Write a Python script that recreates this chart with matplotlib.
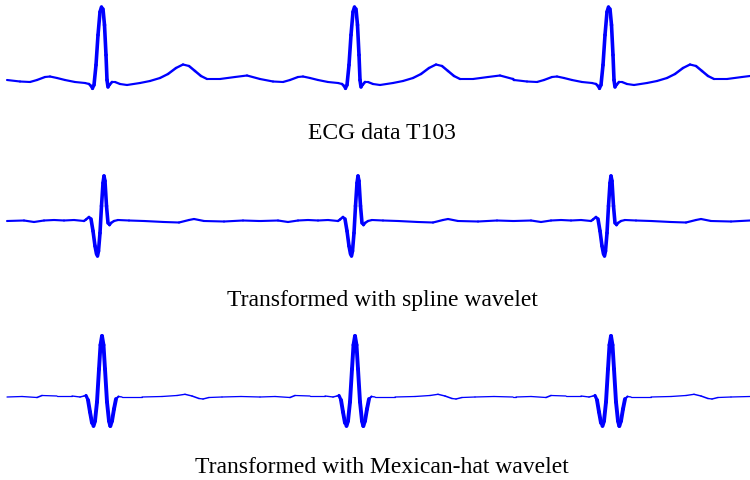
import numpy as np
import matplotlib
matplotlib.use("Agg")
import matplotlib.pyplot as plt
from matplotlib.collections import LineCollection

# R-peak positions (sample index) of the three beats in each trace
ecg_peaks = [102, 355, 609]
spline_peaks = [104, 358, 611]
mexhat_peaks = [102, 355, 611]

# one beat of each trace: offset from the R peak and amplitude above baseline
ecg_off = [-95, -82, -72, -65, -57, -52, -45, -37, -27, -17, -13, -11, -9.5, -8, -6, -4, -2,
           -0.5, 1, 2.5, 4, 5, 6, 7.5, 10, 13, 18, 25, 38, 48, 58, 66, 74, 81, 87, 93, 99,
           105, 118, 133, 141, 145, 158]
ecg_amp = [0, -1.5, -2, 0, 3, 3.5, 2, 0, -2, -3, -4, -6, -8.5, -5, 15, 45, 68,
           73, 71, 55, 25, 0, -7, -5, -2, -2, -4, -5, -3, -1, 2, 6, 12, 15.5, 14, 9, 4,
           1, 1, 3, 4, 4.5, 1]

spline_off = [-97, -80, -70, -60, -50, -40, -30, -20, -18, -15, -13, -11, -9, -7.5, -6.5,
              -5.5, -4, -2.5, -1, 0, 1, 2.5, 4, 5.5, 7, 10, 14, 25, 40, 60, 75, 85, 90,
              100, 120, 139, 155]
spline_amp = [0, 0.5, -1, 0.5, 1, 0.5, 1, 0, 1.5, 4, 2, -10, -25, -33, -35,
              -30, -12, 15, 38, 45, 40, 15, -2, -4, -2, 0, 1, 0.5, 0, -1, -1.5, 1, 2,
              0, -0.5, 0.5, 0]

mexhat_off = [-95, -80, -65, -60, -45, -30, -22, -18, -16, -14, -12, -10, -8.5, -7, -5, -3,
              -1.5, 0, 1.5, 3, 5, 7, 8.3, 10, 12, 14, 16.5, 20, 40, 60, 75, 83, 90, 97,
              101, 107, 120, 139, 158]
mexhat_amp = [0, 0.5, -0.5, 1.5, 1, 1, 0, 1, 1.5, -3, -15, -26, -29, -24, -5, 28,
              52, 61, 52, 28, -5, -24, -29, -24, -12, -2, 0.5, 0, 0, 0.5, 1.5, 2.7, 1, -1.5,
              -2, -0.5, 0, 0.5, 0]

titles = ["ECG data T103", "Transformed with spline wavelet",
          "Transformed with Mexican-hat wavelet"]


def build(peaks, off, amp, start=7, stop=750):
    t, y = [], []
    for p in peaks:
        for o, a in zip(off, amp):
            x = p + o
            if start <= x <= stop and (not t or x > t[-1]):
                t.append(x)
                y.append(a)
    return np.array(t), np.array(y)


def draw(ax, t, y, thin, thick, steep):
    pts = np.column_stack([t, y])
    segs = np.stack([pts[:-1], pts[1:]], axis=1)
    slope = np.abs(np.diff(y) / np.diff(t))
    lw = thin + (thick - thin) * np.clip(slope / steep, 0, 1)
    lc = LineCollection(segs, colors="#0000ff", linewidths=lw, capstyle="round",
                        joinstyle="round")
    ax.add_collection(lc)


fig = plt.figure(figsize=(7.5, 4.8), dpi=100)
H = 480.0

# (top px, bottom px, baseline px) for each band
bands = [(0, 100, 80), (160, 270, 221), (325, 435, 397)]
traces = [build(ecg_peaks, ecg_off, ecg_amp),
          build(spline_peaks, spline_off, spline_amp),
          build(mexhat_peaks, mexhat_off, mexhat_amp)]
widths = [(1.5, 2.6), (1.5, 2.6), (0.9, 2.8)]

for (top, bot, base), (t, y), (w0, w1) in zip(bands, traces, widths):
    ax = fig.add_axes([0, 1 - bot / H, 1, (bot - top) / H])
    draw(ax, t, y, w0, w1, 3.0)
    ax.set_xlim(0, 750)
    ax.set_ylim(base - bot, base - top)
    ax.axis("off")

for txt, yb in zip(titles, [139, 306, 473]):
    fig.text(382 / 750, 1 - yb / H, txt, ha="center", va="baseline",
             family="Liberation Serif", fontsize=17)

fig.savefig("out.png", dpi=100)
